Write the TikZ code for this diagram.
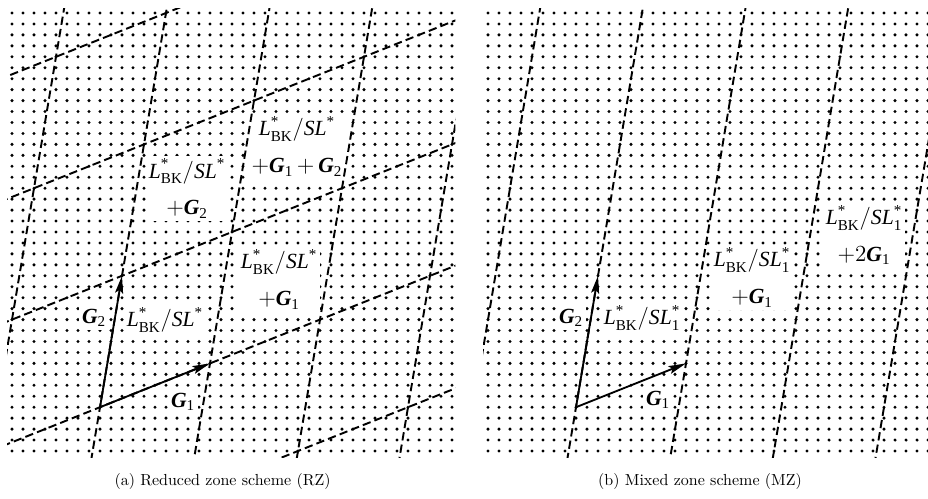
\documentclass[tikz,border=0pt]{standalone}
\usepackage{amsmath}
\usepackage{fontspec}
\newfontfamily\tms{Liberation Serif}
\usetikzlibrary{arrows.meta}
\newcommand{\tm}[1]{\text{\tms #1}}
\newcommand{\LBK}{\tm{\itshape L}^{\tm{*}}_{\tm{BK}}}
\newcommand{\SLs}{\tm{\itshape SL}^{\tm{*}}}
\newcommand{\SLo}{\tm{\itshape SL}^{\tm{*}}_{\tm{1}}}
\newcommand{\Gv}[1]{\tm{\bfseries\itshape G}_{\tm{#1}}}
\newcommand{\dotgrid}{\foreach \i in {0,...,40} {\foreach \j in {0,...,40} {\fill (\i,\j) circle[radius=1.05pt];}}}
\tikzset{
  dline/.style={line width=1.2pt, dash pattern=on 5.2pt off 2.6pt},
  vec/.style={line width=1.15pt, -{Stealth[length=11pt,width=5pt,inset=2pt]}},
  lab/.style={fill=white, inner sep=2pt, align=center, font=\fontsize{13.5}{23}\selectfont},
  captext/.style={inner sep=0pt, font=\fontsize{10}{12}\selectfont},
  panel/.style={x=6.875pt, y=6.84375pt}
}
\begin{document}
\begin{tikzpicture}[x=1pt,y=1pt]
\useasboundingbox (0,0) rectangle (580,311.25);
% ---------- left panel: dots ----------
\begin{scope}[shift={(7.5pt,29.375pt)}, panel]
  \dotgrid
\end{scope}
% ---------- right panel: dots ----------
\begin{scope}[shift={(305pt,29.375pt)}, panel]
  \dotgrid
\end{scope}
% ---------- labels ----------
\node[lab] (n1) at (185.6,219.7) {$\LBK/\SLs$\\$+\Gv1\,{+}\,\Gv2$};
\node[lab] (n2) at (116.9,193.4) {$\LBK/\SLs$\\$+\Gv2$};
\node[lab] (n3) at (174.4,136.6) {$\LBK/\SLs$\\$+\Gv1$};
\node[lab] (n4) at (103.1,111.25) {$\LBK/\SLs$};
\node[lab] (g2a) at (58.75,112.5) {$\Gv2$};
\node[lab] (g1a) at (114.4,60) {$\Gv1$};
\node[lab] (n5) at (401.25,112.5) {$\LBK/\SLo$};
\node[lab] (n6) at (470,137.8) {$\LBK/\SLo$\\$+\Gv1$};
\node[lab] (n7) at (540,164.4) {$\LBK/\SLo$\\$+2\Gv1$};
\node[lab] (g2b) at (356.9,112.5) {$\Gv2$};
\node[lab] (g1b) at (411.25,61.25) {$\Gv1$};
% ---------- left panel: lines and vectors ----------
\begin{scope}[shift={(7.5pt,29.375pt)}, panel]
  \begin{scope}
    \clip (-0.45,-0.55) rectangle (40.3,40.4);
    \foreach \m in {-1,...,3} {\draw[dline] ({8+2*\m-50},{4+12*\m-20}) -- ({8+2*\m+50},{4+12*\m+20});}
    \foreach \k in {-1,...,3} {\draw[dline] ({8+10*\k-10},{4+4*\k-60}) -- ({8+10*\k+10},{4+4*\k+60});}
  \end{scope}
  \coordinate (OL) at (8,4);
  \coordinate (G1L) at (18,8);
  \coordinate (G2L) at (10,16);
  \draw[vec] (OL) -- (G1L);
  \draw[vec] (OL) -- (G2L);
\end{scope}
% ---------- right panel: lines and vectors ----------
\begin{scope}[shift={(305pt,29.375pt)}, panel]
  \begin{scope}
    \clip (-0.45,-0.55) rectangle (40.3,40.4);
    \foreach \k in {-1,...,3} {\draw[dline] ({8+10*\k-10},{4+4*\k-60}) -- ({8+10*\k+10},{4+4*\k+60});}
  \end{scope}
  \coordinate (OR) at (8,4);
  \coordinate (G1R) at (18,8);
  \coordinate (G2R) at (10,16);
  \draw[vec] (OR) -- (G1R);
  \draw[vec] (OR) -- (G2R);
\end{scope}
% ---------- captions ----------
\node[captext] (capa) at (139.1,10.6) {(a) Reduced zone scheme (RZ)};
\node[captext] (capb) at (437.5,10.6) {(b) Mixed zone scheme (MZ)};
\end{tikzpicture}
\end{document}
